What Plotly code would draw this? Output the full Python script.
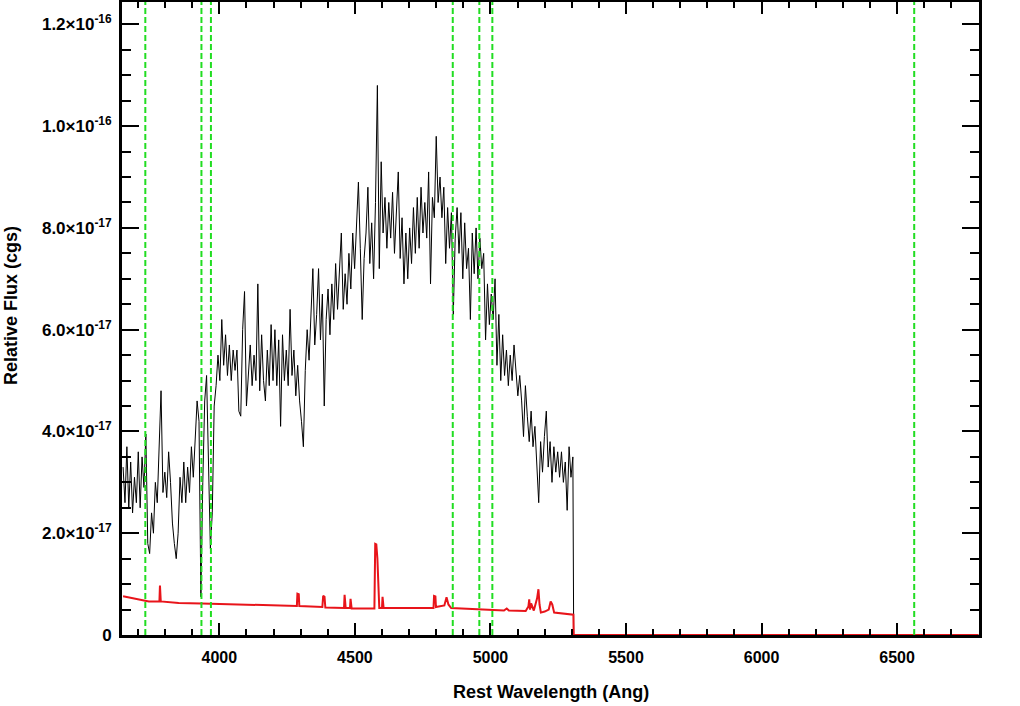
import numpy as np
import plotly.graph_objects as go

# ---- data (flux in units of 1e-17 erg/s/cm2/A) ----
WL_START = 3645.0   # first sample wavelength (Ang)
WL_STEP = 7.0       # sampling step (Ang)
FLUX = [
    3.3, 2.6, 3.7, 2.5, 3.4, 2.4, 3.1, 2.6, 3.6, 2.5,
    3.5, 2.9, 3.95, 1.8, 1.6, 2.4, 2.0, 3.0, 2.6, 3.8,
    4.8, 2.8, 3.2, 2.7, 3.6, 3.0, 2.2, 1.8, 1.5, 2.0,
    3.1, 2.6, 3.4, 2.6, 3.3, 2.8, 3.7, 3.1, 3.8, 4.6,
    4.2, 0.75, 3.0, 4.6, 5.1, 3.6, 1.7, 2.4, 4.5, 4.9,
    5.5, 5.0, 6.2, 5.3, 5.9, 5.1, 5.7, 5.0, 5.6, 5.2,
    5.6, 4.4, 4.3, 6.0, 6.75, 4.5, 5.2, 5.7, 4.9, 5.5,
    5.0, 6.9, 4.8, 5.9, 5.0, 4.6, 5.6, 4.9, 6.1, 5.0,
    6.0, 4.9, 5.8, 4.1, 5.9, 5.0, 5.6, 4.9, 6.4, 5.1,
    5.6, 4.7, 5.3, 4.6, 4.2, 3.7, 5.2, 6.0, 5.4, 6.5,
    7.2, 5.7, 6.3, 7.2, 5.8, 6.7, 4.5, 6.2, 6.8, 5.9,
    6.9, 6.2, 7.3, 6.4, 7.2, 7.9, 6.4, 7.1, 6.5, 7.5,
    6.8, 7.9, 7.2, 8.2, 8.9, 7.6, 6.2, 7.4, 7.9, 8.8,
    7.3, 8.1, 7.0, 8.5, 10.8, 7.2, 9.3, 7.9, 8.6, 7.6,
    8.5, 7.8, 8.7, 7.5, 8.3, 9.1, 7.4, 8.2, 6.9, 7.9,
    7.0, 8.0, 7.3, 8.4, 7.5, 8.6, 7.6, 8.8, 7.9, 8.5,
    7.8, 9.1, 6.9, 8.6, 8.2, 9.8, 8.5, 9.0, 8.2, 8.8,
    7.3, 8.4, 7.6, 8.3, 6.3, 7.8, 8.4, 7.5, 8.3, 7.0,
    8.1, 7.2, 7.6, 6.2, 7.9, 7.1, 8.0, 7.0, 7.8, 7.2,
    7.5, 5.8, 6.9, 6.1, 6.7, 6.2, 7.0, 5.3, 6.3, 5.0,
    5.9, 5.1, 5.6, 4.9, 5.5, 5.0, 5.7, 5.2, 4.7, 5.1,
    4.6, 3.9, 4.9, 4.3, 3.8, 4.4, 3.7, 4.1, 3.3, 2.6,
    3.8, 3.2, 3.9, 4.4, 3.3, 3.8, 3.0, 3.7, 3.2, 3.6,
    3.1, 3.6, 3.0, 3.4, 2.45, 3.7, 3.1, 3.5,
]
# zero-flux tail beyond the end of the spectrum
TAIL_WL = [5307.0, 6800.0]
TAIL_FLUX = [0.0, 0.0]

# error spectrum (red)
ERR_WL = [3645, 3700, 3740, 3779, 3781, 3784, 3850, 3934, 4000, 4100, 4200,
          4286, 4288, 4293, 4295, 4380, 4383, 4388, 4391, 4460, 4462, 4466,
          4482, 4484, 4488, 4572, 4575, 4579, 4583, 4586, 4590, 4600, 4602,
          4606, 4790, 4792, 4797, 4799, 4830, 4838, 4845, 4855, 4950, 5050,
          5060, 5068, 5130, 5140, 5143, 5146, 5150, 5160, 5172, 5177, 5181,
          5186, 5200, 5215, 5222, 5228, 5235, 5306, 5307, 6800]
ERR_FLUX = [0.76, 0.70, 0.66, 0.66, 0.97, 0.66, 0.63, 0.62, 0.61, 0.60, 0.59,
            0.57, 0.81, 0.80, 0.57, 0.55, 0.77, 0.75, 0.54, 0.53, 0.79, 0.53,
            0.53, 0.71, 0.52, 0.52, 1.79, 1.78, 1.50, 1.20, 0.53, 0.53, 0.75,
            0.53, 0.53, 0.77, 0.76, 0.55, 0.58, 0.74, 0.60, 0.53, 0.50, 0.48,
            0.52, 0.48, 0.47, 0.56, 0.70, 0.50, 0.62, 0.48, 0.72, 0.90, 0.60,
            0.44, 0.46, 0.50, 0.66, 0.60, 0.44, 0.40, 0.0, 0.0]

# marked emission/absorption lines (Ang)
LINES = [3727, 3934, 3969, 4861, 4959, 5007, 6563]

Y_TICKS = [0, 2, 4, 6, 8, 10, 12]
Y_TICKTEXT = ["0", "2.0×10<sup>-17</sup>", "4.0×10<sup>-17</sup>",
              "6.0×10<sup>-17</sup>", "8.0×10<sup>-17</sup>",
              "1.0×10<sup>-16</sup>", "1.2×10<sup>-16</sup>"]
X_TICKS = [4000, 4500, 5000, 5500, 6000, 6500]

wl = WL_START + WL_STEP * np.arange(len(FLUX))
wl_all = np.concatenate([wl, TAIL_WL])
flux_all = np.concatenate([FLUX, TAIL_FLUX])

FONT = "Liberation Sans, Arial, sans-serif"
W, H = 1020, 706
ML, MR, MT, MB = 122, 41, 2, 71
PW, PH = W - ML - MR, H - MT - MB

fig = go.Figure()
fig.add_trace(go.Scatter(x=wl_all, y=flux_all, mode="lines",
                         line=dict(color="black", width=1), hoverinfo="skip"))
fig.add_trace(go.Scatter(x=ERR_WL, y=ERR_FLUX, mode="lines",
                         line=dict(color="#e8141a", width=2), hoverinfo="skip"))

for lam in LINES:
    fig.add_shape(type="line", xref="x", yref="paper", x0=lam, x1=lam, y0=0, y1=1,
                  line=dict(color="#22dd22", width=2, dash="6px,3px"))

fig.update_layout(
    width=W, height=H,
    margin=dict(l=ML, r=MR, t=MT, b=MB),
    paper_bgcolor="white", plot_bgcolor="white",
    showlegend=False,
    font=dict(family=FONT, color="black", size=16),
)
fig.update_xaxes(
    range=[3641, 6802], showgrid=False, zeroline=False, automargin=False,
    showline=True, linewidth=3, linecolor="black", mirror="allticks",
    ticks="inside", ticklen=12, tickwidth=2, tickcolor="black",
    tickmode="array", tickvals=X_TICKS,
    ticktext=[f"<b>{v}</b>" for v in X_TICKS],
    tickfont=dict(size=16, family=FONT),
    ticklabelstandoff=6,
    minor=dict(ticks="inside", ticklen=6, tickwidth=2, tickcolor="black",
               tickmode="linear", tick0=4000, dtick=100),
)
fig.update_yaxes(
    range=[0, 12.44], showgrid=False, zeroline=False, automargin=False,
    showline=True, linewidth=3, linecolor="black", mirror="allticks",
    ticks="inside", ticklen=17, tickwidth=2, tickcolor="black",
    tickmode="array", tickvals=Y_TICKS,
    ticktext=[f"<b>{t}</b>" for t in Y_TICKTEXT],
    tickfont=dict(size=17, family=FONT),
    ticklabelstandoff=4,
    minor=dict(ticks="inside", ticklen=9, tickwidth=2, tickcolor="black",
               tickmode="linear", tick0=0, dtick=0.5),
)

# axis titles placed as annotations (pixel positions converted to paper coords)
fig.add_annotation(text="<b>Rest Wavelength (Ang)</b>", showarrow=False,
                   xref="paper", yref="paper",
                   x=(551 - ML) / PW, y=-(692 - (H - MB)) / PH,
                   xanchor="center", yanchor="middle",
                   font=dict(size=18, family=FONT, color="black"))
fig.add_annotation(text="<b>Relative Flux (cgs)</b>", showarrow=False,
                   xref="paper", yref="paper",
                   x=(11 - ML) / PW, y=((H - MB) - 305) / PH,
                   xanchor="center", yanchor="middle", textangle=-90,
                   font=dict(size=18, family=FONT, color="black"))

fig.write_html("out.html", config={"displayModeBar": False},
               post_script="document.body.style.margin='0';document.body.style.padding='0';")
